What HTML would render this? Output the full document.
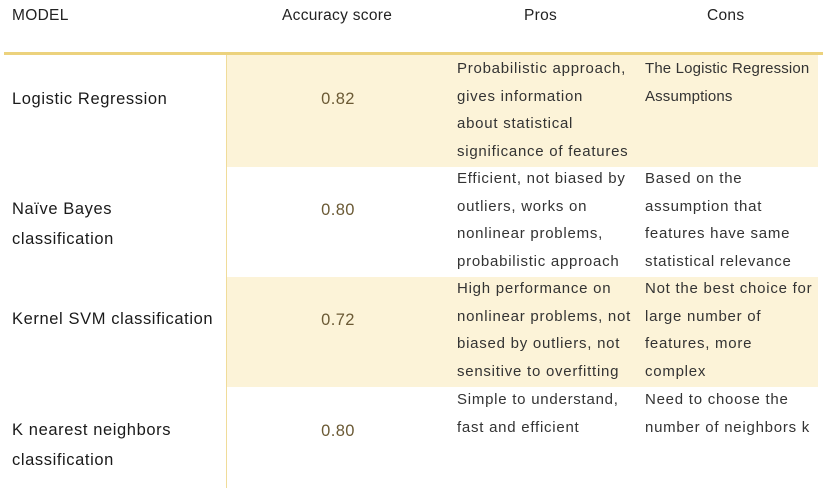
<!DOCTYPE html>
<html><head><meta charset="utf-8">
<style>
body{margin:0;width:823px;height:488px;background:#fff;position:relative;overflow:hidden;font-family:"Liberation Sans",sans-serif;color:#222}
.a{position:absolute;white-space:nowrap}
.h{font-size:15.5px;color:#222;top:7px;letter-spacing:0.3px}
.bg{position:absolute;left:227px;width:591px;background:#fcf3d8}
.m{font-size:16.5px;color:#1a1a1a;left:12px;line-height:30px;letter-spacing:0.6px}
.acc{font-size:16.5px;color:#6b5a35;left:227px;width:222px;text-align:center;letter-spacing:0.4px}
.t{font-size:15px;color:#333;line-height:27.5px;letter-spacing:0.75px}
</style></head><body>
<div class="a h" style="left:12px">MODEL</div>
<div class="a h" style="left:282px">Accuracy score</div>
<div class="a h" style="left:524px">Pros</div>
<div class="a h" style="left:707px">Cons</div>
<div class="a" style="left:4px;top:52px;width:819px;height:3px;background:#ecd27d"></div>
<div class="bg" style="top:55px;height:112px"></div>
<div class="bg" style="top:277px;height:110px"></div>
<div class="a" style="left:226px;top:55px;width:1px;height:433px;background:#f0dc9a"></div>

<div class="a m" style="top:84px">Logistic Regression</div>
<div class="a acc" style="top:90px">0.82</div>
<div class="a t" style="left:457px;top:55px">Probabilistic approach,<br>gives information<br>about statistical<br>significance of features</div>
<div class="a t" style="left:645px;top:55px;letter-spacing:0.15px">The Logistic Regression<br>Assumptions</div>

<div class="a m" style="top:194px">Naïve Bayes<br>classification</div>
<div class="a acc" style="top:201px">0.80</div>
<div class="a t" style="left:457px;top:165px">Efficient, not biased by<br>outliers, works on<br>nonlinear problems,<br>probabilistic approach</div>
<div class="a t" style="left:645px;top:165px">Based on the<br>assumption that<br>features have same<br>statistical relevance</div>

<div class="a m" style="top:304px">Kernel SVM classification</div>
<div class="a acc" style="top:311px">0.72</div>
<div class="a t" style="left:457px;top:275px">High performance on<br>nonlinear problems, not<br>biased by outliers, not<br>sensitive to overfitting</div>
<div class="a t" style="left:645px;top:275px">Not the best choice for<br>large number of<br>features, more<br>complex</div>

<div class="a m" style="top:415px">K nearest neighbors<br>classification</div>
<div class="a acc" style="top:422px">0.80</div>
<div class="a t" style="left:457px;top:386px">Simple to understand,<br>fast and efficient</div>
<div class="a t" style="left:645px;top:386px">Need to choose the<br>number of neighbors k</div>
</body></html>
